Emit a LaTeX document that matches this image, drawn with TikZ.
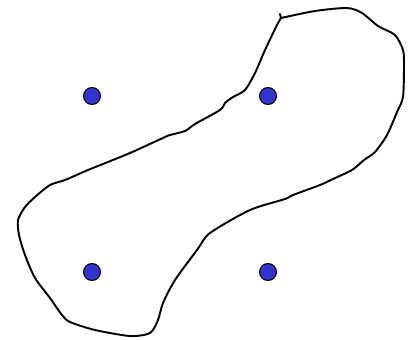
\documentclass[tikz,border=0pt]{standalone}
\usepackage{tikz}
\definecolor{dotblue}{RGB}{51,51,204}
\tikzset{pt/.style={circle,draw=black,fill=dotblue,line width=0.6pt,inner sep=0pt,minimum size=0.34cm}}

\begin{document}
\begin{tikzpicture}[x=0.02cm,y=-0.02cm]
\useasboundingbox (0,0) rectangle (408,339);

\node[pt] (A1) at (92,96) {};
\node[pt] (A2) at (268,96) {};
\node[pt] (A3) at (92,272) {};
\node[pt] (A4) at (268,272) {};

\draw[black,line width=1.1pt,line join=round,line cap=round] (280,14) -- (281,18)
plot[smooth,tension=0.45] coordinates {
(281,18) (315,11) (347,8) (362,13) (378,26) (395,35) (403,50) (404,65)
(403,97) (397,112) (387,135) (375,152) (364,160) (352,170) (333,179)
(320,185) (293,195) (285,199) (250,210) (210,233) (197,250) (175,280)
(163,303) (158,320) (150,333) (130,336) (95,330) (70,322) (62,315)
(50,298) (35,278) (25,255) (19,235) (18,220) (25,207) (35,197)
(50,185) (65,180) (88,170) (130,153) (165,137) (170,135) (185,131)
(195,124) (220,110) (225,103) (233,97) (245,90) (255,73) (265,50)
(277,25) (281,18)};

\end{tikzpicture}
\end{document}
